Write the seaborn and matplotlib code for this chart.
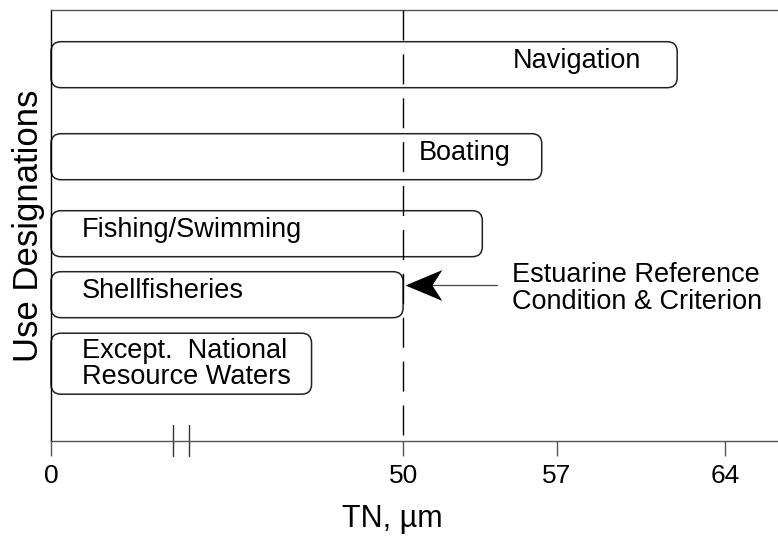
import numpy as np
import pandas as pd
import matplotlib.pyplot as plt
import matplotlib.transforms as mtransforms
from matplotlib.patches import FancyBboxPatch
from matplotlib.path import Path
import seaborn as sns

# data
uses = ["Navigation", "Boating", "Fishing/Swimming", "Shellfisheries",
        "Except.  National\nResource Waters"]
tn_values = [62.0, 56.3, 53.6, 50.0, 37.0]
criterion = 50
tick_values = [0, 50, 57, 64]
tick_labels = ["0", "50", "57", "64"]

# layout (axis is broken: 0-50 squeezed, 50-64 stretched)
row_y = [376, 284, 207, 146, 77]
row_h = [46, 46, 46, 46, 61]
label_x = [55.0, 50.7, 4.4, 4.4, 4.4]
x_knots = [0, 50, 57, 64]
px_knots = [0, 352, 506, 674]


def fwd(x):
    x = np.asarray(x, dtype=float)
    y = np.interp(x, x_knots, px_knots)
    y = np.where(x > x_knots[-1], px_knots[-1] + (x - x_knots[-1]) * 24.0, y)
    y = np.where(x < x_knots[0], px_knots[0] + (x - x_knots[0]) * 7.04, y)
    return y


def inv(p):
    p = np.asarray(p, dtype=float)
    x = np.interp(p, px_knots, x_knots)
    x = np.where(p > px_knots[-1], x_knots[-1] + (p - px_knots[-1]) / 24.0, x)
    x = np.where(p < px_knots[0], x_knots[0] + (p - px_knots[0]) / 7.04, x)
    return x


sns.set_theme(style="white")
plt.rcParams["font.family"] = ["Liberation Sans", "DejaVu Sans"]
plt.rcParams["lines.scale_dashes"] = False
plt.rcParams["text.color"] = "black"
plt.rcParams["axes.labelcolor"] = "black"
plt.rcParams["xtick.labelcolor"] = "black"

df = pd.DataFrame({"use": uses, "tn": tn_values, "row": row_y})

fig = plt.figure(figsize=(7.78, 5.37), dpi=100)
ax = fig.add_axes([51 / 778, 96.3 / 537, 727 / 778, 430.7 / 537])

sns.barplot(data=df, x="tn", y="row", orient="h", native_scale=True,
            color="white", ax=ax)

ax.set_xscale("function", functions=(fwd, inv))
ax.set_xlim(0, 66.2)
ax.set_ylim(0, 430.7)

# swap seaborn's square bars for rounded boxes
bars = list(ax.patches)
for bar in bars:
    yc = bar.get_y() + bar.get_height() / 2
    i = int(np.argmin(np.abs(np.array(row_y) - yc)))
    h = row_h[i]
    x0 = bar.get_x()
    x1 = bar.get_x() + bar.get_width()
    (px0, py0), (px1, py1) = ax.transData.transform([(x0, row_y[i] - h / 2),
                                                     (x1, row_y[i] + h / 2)])
    box = FancyBboxPatch((px0, py0), px1 - px0, py1 - py0,
                         boxstyle="round,pad=0,rounding_size=10",
                         transform=mtransforms.IdentityTransform(),
                         facecolor="white", edgecolor="#222222", linewidth=1.1,
                         clip_on=False, zorder=2)
    ax.add_artist(box)
    bar.remove()

for name, lx, yc in zip(uses, label_x, row_y):
    if "\n" in name:
        ax.text(lx, yc, name, ha="left", va="center", fontsize=19.5,
                linespacing=1.0, zorder=4)
    else:
        ax.text(lx, yc - 3, name, ha="left", va="baseline", fontsize=19.5, zorder=4)

# criterion line
ax.plot([criterion, criterion], [430.7, 0], color="black", linewidth=1.0,
        dashes=(21.6, 10.0), zorder=3)

# arrow (stealth head) + note
stealth = Path([(0, 0), (37, 15.5), (27, 0), (37, -15.5), (0, 0)],
               [Path.MOVETO, Path.LINETO, Path.LINETO, Path.LINETO, Path.CLOSEPOLY])
ax.plot([50.8, 54.26], [155.5, 155.5], color="#444444", linewidth=0.9, zorder=4)
ax.plot([50.09], [155.5], marker=stealth, markersize=53, color="black",
        markeredgewidth=0, linestyle="none", zorder=5)
ax.text(54.95, 152, "Estuarine Reference\nCondition & Criterion", ha="left",
        va="center", fontsize=19.5, linespacing=1.05, zorder=4)

# axis break marks
for bx in [17.3, 19.6]:
    ax.plot([bx, bx], [16, -15], color="#333333", linewidth=1.0, clip_on=False)

ax.set_xticks(tick_values)
ax.set_xticklabels(tick_labels)
ax.set_yticks([])
ax.tick_params(axis="x", direction="out", length=10.5, width=1, color="#555555",
               pad=6, labelsize=19, bottom=True)
ax.spines["right"].set_visible(False)
ax.spines["left"].set_color("black")
ax.spines["top"].set_color("#555555")
ax.spines["bottom"].set_color("#555555")
for s in ["left", "top", "bottom"]:
    ax.spines[s].set_linewidth(1.0)

ax.set_xlabel("TN, µm", fontsize=22, labelpad=12, x=(392 - 51) / 727)
ax.set_ylabel("Use Designations", fontsize=25, labelpad=4)

fig.savefig("out.png", dpi=100)
